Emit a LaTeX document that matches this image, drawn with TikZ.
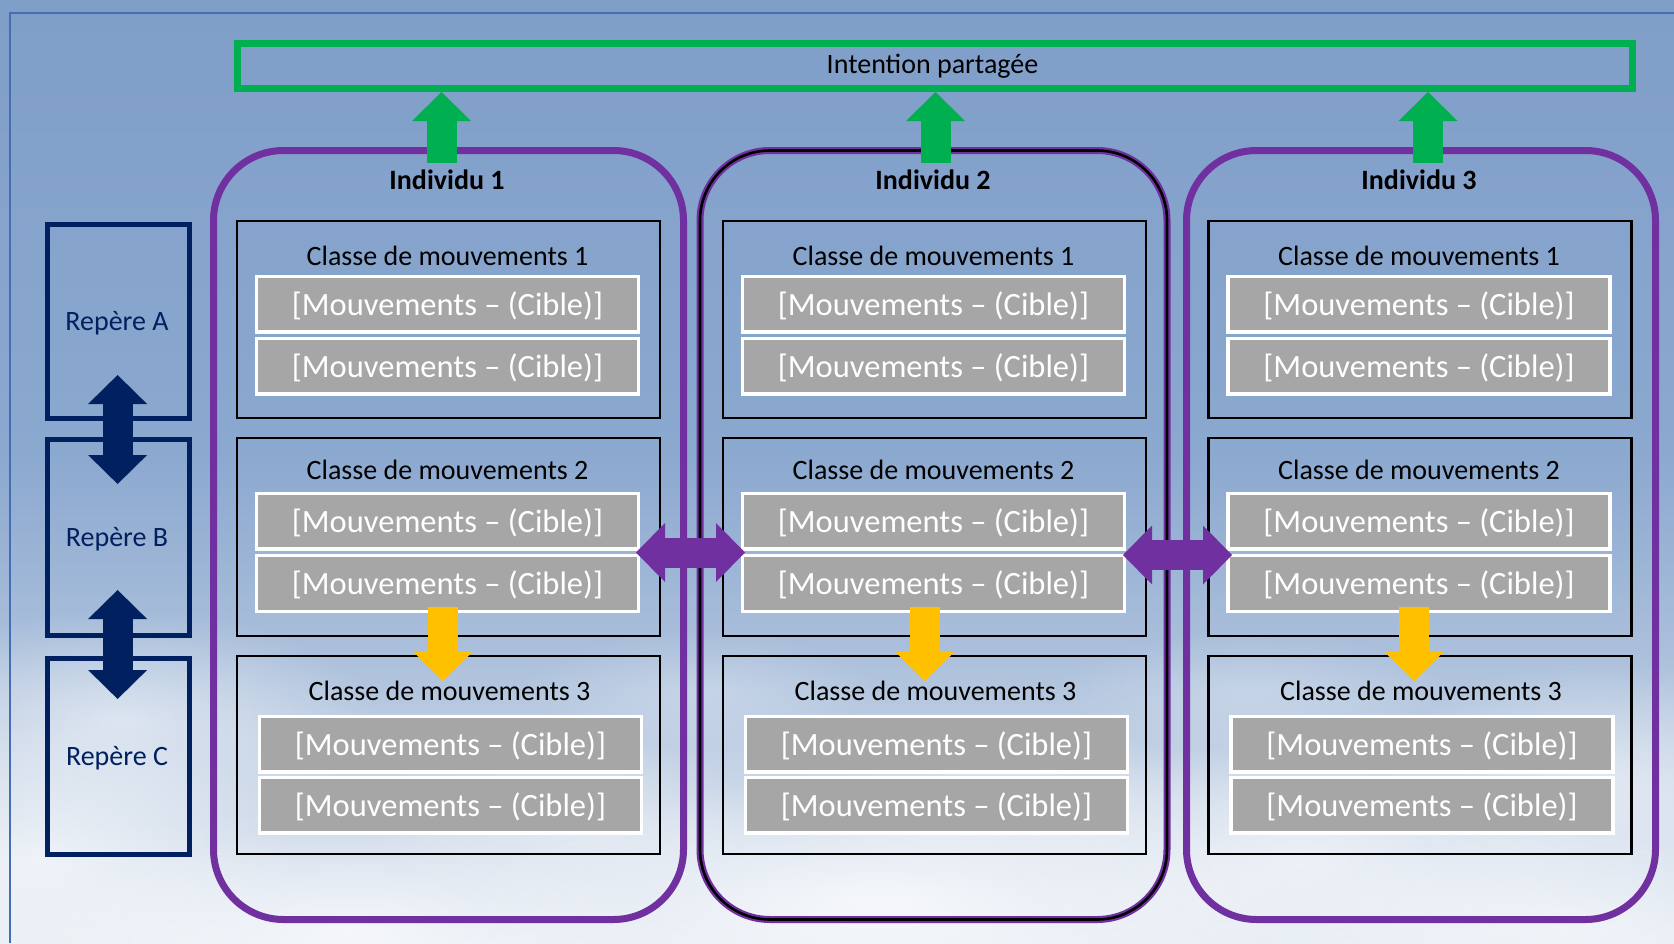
\documentclass[tikz,border=0pt]{standalone}
\usepackage{fontspec}
\setmainfont{Carlito}
\usetikzlibrary{arrows.meta,fadings}
\definecolor{purp}{HTML}{7030A0}
\definecolor{grn}{HTML}{00B050}
\definecolor{yel}{HTML}{FFC000}
\definecolor{navy}{HTML}{002060}
\definecolor{greyc}{HTML}{A6A6A6}
\definecolor{framec}{RGB}{70,110,180}
\definecolor{sk1}{RGB}{127,158,200}
\definecolor{sk2}{RGB}{139,168,207}
\definecolor{sk3}{RGB}{170,191,219}
\definecolor{sk4}{RGB}{205,217,233}
\definecolor{sk5}{RGB}{230,236,244}
\pgfdeclareverticalshading{sky}{100bp}{color(0bp)=(sk5); color(25bp)=(sk5); color(32.6bp)=(sk4); color(40.5bp)=(sk3); color(51.1bp)=(sk2); color(75bp)=(sk1); color(100bp)=(sk1)}
\tikzfading[name=softblob, inner color=transparent!0, outer color=transparent!100]
\tikzset{
  panel/.style={draw=purp, line width=7pt, rounded corners=70pt, minimum height=769pt, inner sep=0pt},
  panelb/.style={draw=purp, line width=2.2pt, double=black, double distance=2.6pt, rounded corners=70pt, minimum height=769pt, inner sep=0pt},
  intentbox/.style={draw=grn, line width=7pt, minimum width=1394.5pt, minimum height=45pt, inner sep=0pt},
  clsbox/.style={draw=black, line width=2.2pt, minimum width=423pt, inner sep=0pt},
  mv/.style={fill=greyc, draw=white, line width=3.3pt, minimum width=382pt, minimum height=55.7pt, inner sep=0pt, text=white, font=\fontsize{32.5}{36}\selectfont, text height=26pt, text depth=4pt},
  repbox/.style={draw=navy, line width=5pt, minimum width=142pt, inner sep=0pt},
  reptext/.style={anchor=base, inner sep=0pt, text=navy, font=\fontsize{28}{32}\selectfont},
  title/.style={anchor=base, inner sep=0pt, font=\fontsize{28}{32}\selectfont},
  indiv/.style={anchor=base, inner sep=0pt, font=\bfseries\fontsize{28}{32}\selectfont},
  tipT/.tip={Triangle[length=29pt 0 0, width=59pt 0 0, line width=0pt 0 0]},
  garrow/.style={draw=grn, line width=30pt, -tipT},
  yarrow/.style={draw=yel, line width=30pt, -tipT},
  narrow/.style={draw=navy, line width=30pt, tipT-tipT},
  parrow/.style={draw=purp, line width=30pt, tipT-tipT},
  cloud/.style={fill=white, path fading=softblob},
}
\begin{document}
\begin{tikzpicture}[x=1pt,y=-1pt]
\useasboundingbox (0,0) rectangle (1674,943);
\fill[shading=sky] (0,0) rectangle (1674,943);
% soft clouds
\foreach \cx/\cy/\rx/\ry/\op in {120/720/260/110/0.5, 40/860/260/140/0.6, 350/930/320/100/0.6, 560/820/200/90/0.35, 880/900/420/120/0.7, 1000/800/220/80/0.4, 1300/860/300/120/0.55, 1600/780/220/120/0.45, 1560/920/260/90/0.5, 700/690/180/60/0.25, 1250/690/200/60/0.25}
  \fill[cloud, opacity=\op] (\cx,\cy) ellipse [x radius=\rx, y radius=\ry];
\draw[framec, line width=1.5pt] (10,943) -- (10,13) -- (1674,13);

% shared intention
\node[intentbox] (intent) at (934.75,66) {};
\node[title] (intenttxt) at (932.5,73) {Intention partagée};

% individuals
\node[panel, minimum width=470pt] (P1) at (448.5,535) {};
\node[panelb, minimum width=467pt] (P2) at (933.5,535) {};
\node[panel, minimum width=469pt] (P3) at (1421,535) {};
\node[indiv] (I1) at (447,189) {Individu 1};
\node[indiv] (I2) at (933,189) {Individu 2};
\node[indiv] (I3) at (1419,189) {Individu 3};

% classes
\foreach \p/\cx/\yx in {1/448.5/443, 2/934.5/925, 3/1420/1414} {
  \node[clsbox, minimum height=197pt] (k\p-1) at (\cx,319.5) {};
  \node[clsbox, minimum height=198pt] (k\p-2) at (\cx,537) {};
  \node[clsbox, minimum height=198pt] (k\p-3) at (\cx,755) {};
  \node[title] (t\p-1) at (\cx-1,265) {Classe de mouvements 1};
  \node[title] (t\p-2) at (\cx-1,479) {Classe de mouvements 2};
  \node[title] (t\p-3) at (\cx+1,700) {Classe de mouvements 3};
  \node[mv] (m\p-1a) at (\cx-1,304) {[Mouvements – (Cible)]};
  \node[mv] (m\p-1b) at (\cx-1,366) {[Mouvements – (Cible)]};
  \node[mv] (m\p-2a) at (\cx-1,521) {[Mouvements – (Cible)]};
  \node[mv] (m\p-2b) at (\cx-1,583.5) {[Mouvements – (Cible)]};
  \node[mv] (m\p-3a) at (\cx+2,744) {[Mouvements – (Cible)]};
  \node[mv] (m\p-3b) at (\cx+2,805) {[Mouvements – (Cible)]};
  \coordinate (ys\p) at (\yx,607);
  \coordinate (ye\p) at (\yx,681);
  \draw[yarrow] (ys\p) -- (ye\p);
}

% reperes
\node[repbox, minimum height=194pt] (RA) at (118,321.5) {};
\node[repbox, minimum height=196pt] (RB) at (118,537.5) {};
\node[repbox, minimum height=196pt] (RC) at (118,756.5) {};
\node[reptext] (RAt) at (117,330) {Repère A};
\node[reptext] (RBt) at (117,546) {Repère B};
\node[reptext] (RCt) at (117,765) {Repère C};
\coordinate (nA1) at (117.6,375);
\coordinate (nA2) at (117.6,484);
\coordinate (nB1) at (117.6,590);
\coordinate (nB2) at (117.6,699);
\draw[narrow] (nA1) -- (nA2);
\draw[narrow] (nB1) -- (nB2);

% green arrows to intention
\coordinate (g1) at (441.5,163);
\coordinate (g2) at (935.5,163);
\coordinate (g3) at (1428,163);
\draw[garrow] (g1) -- (g1 |- intent.south);
\draw[garrow] (g2) -- (g2 |- intent.south);
\draw[garrow] (g3) -- (g3 |- intent.south);

% purple exchange arrows
\coordinate (p1l) at (636,552.5);
\coordinate (p1r) at (745,552.5);
\coordinate (p2l) at (1123,555);
\coordinate (p2r) at (1232,555);
\draw[parrow] (p1l) -- (p1r);
\draw[parrow] (p2l) -- (p2r);
\end{tikzpicture}
\end{document}
